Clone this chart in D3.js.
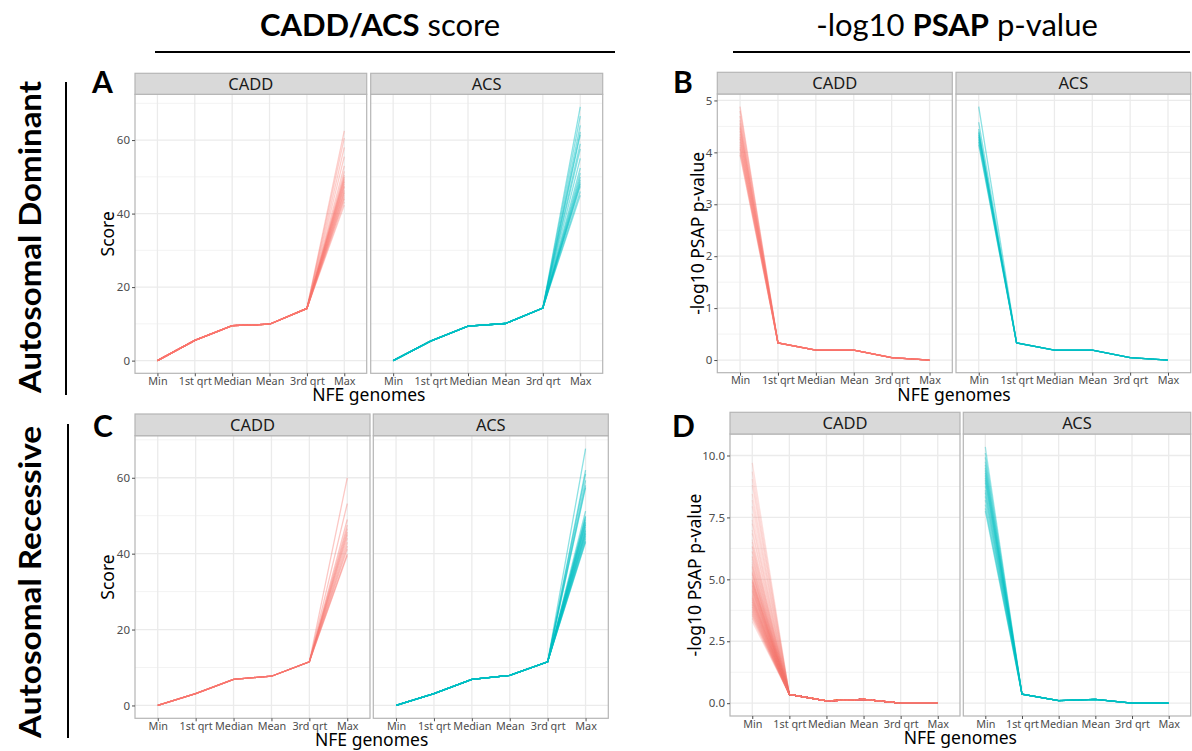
<html>
<head>
<script src="https://d3js.org/d3.v7.min.js"></script>
<style>
  body { margin: 0; background: #fff; }
  .tick text { font-family: "Noto Sans", sans-serif; }
</style>
</head>
<body>
<svg id="chart" width="1192" height="751"></svg>
<script>
  // categories on the x axis (same for every facet)
  var categories = ["Min", "1st qrt", "Median", "Mean", "3rd qrt", "Max"];

  // A: Autosomal Dominant, score. shared first five points, max differs by line
  var adCaddBase = [0, 5.5, 9.5, 9.9, 14.2];
  var adCaddMax = [62.5, 60.5, 58, 55.5, 53, 51.5, 50.5, 50, 49.5, 49, 48.6, 48, 47.5, 47.2, 46.5, 46, 45.6, 45, 44.4, 44, 43.2, 42.3];
  var adAcsBase = [0, 5.3, 9.4, 10.1, 14.3];
  var adAcsMax = [69, 66.5, 64, 62.2, 61.4, 59, 57.6, 55, 52.4, 51, 50, 49.2, 48.5, 48, 47.4, 46, 45];

  // B: Autosomal Dominant, -log10 PSAP p-value. min differs by line
  var adCaddPMin = [4.88, 4.8, 4.7, 4.62, 4.56, 4.5, 4.46, 4.41, 4.35, 4.3, 4.26, 4.2, 4.15, 4.1, 4.06, 4.0, 3.95];
  var adCaddPTail = [0.33, 0.19, 0.19, 0.045, 0];
  var adAcsPMin = [4.88, 4.58, 4.45, 4.4, 4.37, 4.33, 4.3, 4.25, 4.2, 4.15];
  var adAcsPTail = [0.33, 0.19, 0.19, 0.045, 0];

  // C: Autosomal Recessive, score
  var arCaddBase = [0, 3.1, 6.9, 7.7, 11.5];
  var arCaddMax = [60, 53.2, 49, 47.5, 46.6, 45.7, 45, 44.1, 43, 42, 41.2, 40, 39.5];
  var arAcsBase = [0, 3.1, 6.9, 7.9, 11.5];
  var arAcsMax = [67.7, 62, 61, 59.3, 58, 57.4, 51.2, 50, 49.6, 49, 48.4, 48, 47.6, 47, 46.4, 46, 45.5, 45.1, 44.6, 44, 43.4, 43];

  // D: Autosomal Recessive, -log10 PSAP p-value
  var arCaddPMin = [9.7, 9.35, 9.05, 8.8, 8.45, 8.2, 7.95, 7.65, 7.4, 7.25, 7.0, 6.85, 6.6, 6.5, 6.35, 6.3, 6.15, 6.1, 5.95, 5.9,
                    5.8, 5.7, 5.62, 5.5, 5.43, 5.3, 5.26, 5.18, 5.1, 5.04, 4.98, 4.93, 4.88, 4.84, 4.79, 4.73, 4.7, 4.64, 4.58, 4.55,
                    4.49, 4.44, 4.4, 4.33, 4.29, 4.24, 4.2, 4.14, 4.1, 4.06, 4.0, 3.96, 3.9, 3.86, 3.8, 3.74, 3.7, 3.6, 3.52, 3.41, 3.3,
                    5.55, 5.35, 5.22, 5.0, 4.9, 4.76, 4.62, 4.52, 4.36, 4.26, 4.17, 4.08, 3.98, 3.88, 3.78, 3.68, 3.62, 3.55, 3.45];
  var arCaddPTail = [0.35, 0.09, 0.15, 0, 0];
  var arAcsPMin = [10.35, 10.1, 9.92, 9.75, 9.62, 9.5, 9.4, 9.3, 9.2, 9.1, 9.0, 8.9, 8.76, 8.6, 8.5, 8.35, 8.2, 8.02, 7.86, 7.75];
  var arAcsPTail = [0.36, 0.1, 0.15, 0, 0];

  var red = "#F8766D", cyan = "#00BFC4";
  var font = "Noto Sans";

  var svg = d3.select("#chart");

  function scoreLines(base, maxes) { return maxes.map(function(m) { return base.concat([m]); }); }
  function pLines(mins, tail) { return mins.map(function(m) { return [m].concat(tail); }); }

  function drawRow(cfg) {
    var all = [];
    cfg.facets.forEach(function(f) { f.lines.forEach(function(l) { all = all.concat(l); }); });
    var ext = d3.extent(all), pad = (ext[1] - ext[0]) * 0.05;
    var plotTop = cfg.top + cfg.stripH;
    var y = d3.scaleLinear().domain([ext[0] - pad, ext[1] + pad]).range([cfg.bottom, plotTop]);

    cfg.facets.forEach(function(f, i) {
      var x = d3.scalePoint().domain(categories).range([f.left, f.right]).padding(0.6);
      var g = svg.append("g");

      // grid
      g.selectAll(".minor").data(cfg.minor.filter(function(v) { return y(v) > plotTop && y(v) < cfg.bottom; }))
        .enter().append("line")
        .attr("x1", f.left).attr("x2", f.right)
        .attr("y1", function(d) { return y(d); }).attr("y2", function(d) { return y(d); })
        .attr("stroke", "#f3f3f3").attr("stroke-width", 1);
      g.selectAll(".major").data(cfg.ticks)
        .enter().append("line")
        .attr("x1", f.left).attr("x2", f.right)
        .attr("y1", function(d) { return y(d); }).attr("y2", function(d) { return y(d); })
        .attr("stroke", "#ebebeb").attr("stroke-width", 1.3);
      g.selectAll(".vgrid").data(categories)
        .enter().append("line")
        .attr("x1", function(d) { return x(d); }).attr("x2", function(d) { return x(d); })
        .attr("y1", plotTop).attr("y2", cfg.bottom)
        .attr("stroke", "#ebebeb").attr("stroke-width", 1.3);

      // lines
      var line = d3.line()
        .x(function(d, j) { return x(categories[j]); })
        .y(function(d) { return y(d); });
      g.selectAll(".series").data(f.lines)
        .enter().append("path")
        .attr("d", line)
        .attr("fill", "none")
        .attr("stroke", f.color)
        .attr("stroke-width", 1.3)
        .attr("stroke-opacity", f.alpha);

      // panel border
      g.append("rect")
        .attr("x", f.left).attr("y", plotTop)
        .attr("width", f.right - f.left).attr("height", cfg.bottom - plotTop)
        .attr("fill", "none").attr("stroke", "#b5b5b5").attr("stroke-width", 1.2);

      // strip
      g.append("rect")
        .attr("x", f.left).attr("y", cfg.top)
        .attr("width", f.right - f.left).attr("height", cfg.stripH)
        .attr("fill", "#d9d9d9").attr("stroke", "#b5b5b5").attr("stroke-width", 1.2);
      g.append("text")
        .attr("x", (f.left + f.right) / 2).attr("y", cfg.top + cfg.stripH / 2 + 6)
        .attr("text-anchor", "middle")
        .style("font-family", font).style("font-size", "16.5px").style("fill", "#1a1a1a")
        .text(f.name);

      // x axis
      var xa = svg.append("g")
        .attr("transform", "translate(0," + cfg.bottom + ")")
        .call(d3.axisBottom(x).tickSize(3).tickPadding(1).tickSizeOuter(0));
      xa.select(".domain").remove();
      xa.selectAll("line").attr("stroke", "#4d4d4d");
      xa.selectAll("text").style("font-size", "10.8px").style("fill", "#4d4d4d");

      // y axis on first facet
      if (i == 0) {
        var ya = svg.append("g")
          .attr("transform", "translate(" + f.left + ",0)")
          .call(d3.axisLeft(y).tickValues(cfg.ticks).tickFormat(cfg.fmt).tickSize(3).tickPadding(2).tickSizeOuter(0));
        ya.select(".domain").remove();
        ya.selectAll("line").attr("stroke", "#4d4d4d");
        ya.selectAll("text").style("font-size", "11.5px").style("fill", "#4d4d4d");

        svg.append("text")
          .attr("transform", "translate(" + cfg.yTitleX + "," + ((plotTop + cfg.bottom) / 2) + ") rotate(-90)")
          .attr("text-anchor", "middle")
          .style("font-family", font).style("font-size", "17.5px").style("fill", "#000")
          .text(cfg.yTitle);
      }
    });

    var left = cfg.facets[0].left, right = cfg.facets[1].right;
    svg.append("text")
      .attr("x", (left + right) / 2).attr("y", cfg.bottom + 28)
      .attr("text-anchor", "middle")
      .style("font-family", font).style("font-size", "17.5px").style("fill", "#000")
      .text("NFE genomes");

    svg.append("text")
      .attr("x", cfg.letterX).attr("y", cfg.letterY)
      .style("font-family", "Lato").style("font-weight", "bold").style("font-size", "30px")
      .text(cfg.letter);
  }

  var scoreTicks = [0, 20, 40, 60], scoreMinor = [10, 30, 50, 70];

  drawRow({
    letter: "A", letterX: 92, letterY: 93,
    top: 73.3, stripH: 21, bottom: 373.3,
    ticks: scoreTicks, minor: scoreMinor, fmt: d3.format("d"),
    yTitle: "Score", yTitleX: 114,
    facets: [
      {name: "CADD", left: 135, right: 366.7, color: red, alpha: 0.35, lines: scoreLines(adCaddBase, adCaddMax)},
      {name: "ACS", left: 370.7, right: 602.7, color: cyan, alpha: 0.45, lines: scoreLines(adAcsBase, adAcsMax)}
    ]
  });

  drawRow({
    letter: "B", letterX: 673, letterY: 93,
    top: 72.3, stripH: 21.7, bottom: 372.7,
    ticks: [0, 1, 2, 3, 4, 5], minor: [0.5, 1.5, 2.5, 3.5, 4.5], fmt: d3.format("d"),
    yTitle: "-log10 PSAP p-value", yTitleX: 704,
    facets: [
      {name: "CADD", left: 717.3, right: 952.3, color: red, alpha: 0.35, lines: pLines(adCaddPMin, adCaddPTail)},
      {name: "ACS", left: 956, right: 1190.7, color: cyan, alpha: 0.45, lines: pLines(adAcsPMin, adAcsPTail)}
    ]
  });

  drawRow({
    letter: "C", letterX: 93, letterY: 437,
    top: 414, stripH: 21.7, bottom: 718.3,
    ticks: scoreTicks, minor: scoreMinor, fmt: d3.format("d"),
    yTitle: "Score", yTitleX: 114,
    facets: [
      {name: "CADD", left: 135, right: 370, color: red, alpha: 0.4, lines: scoreLines(arCaddBase, arCaddMax)},
      {name: "ACS", left: 373.3, right: 608.3, color: cyan, alpha: 0.45, lines: scoreLines(arAcsBase, arAcsMax)}
    ]
  });

  drawRow({
    letter: "D", letterX: 672, letterY: 437,
    top: 412.3, stripH: 21.7, bottom: 716,
    ticks: [0, 2.5, 5, 7.5, 10], minor: [1.25, 3.75, 6.25, 8.75], fmt: d3.format(".1f"),
    yTitle: "-log10 PSAP p-value", yTitleX: 701,
    facets: [
      {name: "CADD", left: 730, right: 960, color: red, alpha: 0.22, lines: pLines(arCaddPMin, arCaddPTail)},
      {name: "ACS", left: 963.3, right: 1190.7, color: cyan, alpha: 0.35, lines: pLines(arAcsPMin, arAcsPTail)}
    ]
  });

  // column headers
  var h1 = svg.append("text").attr("x", 380).attr("y", 36).attr("text-anchor", "middle")
    .style("font-family", "Lato").style("font-size", "31px");
  h1.append("tspan").style("font-weight", "bold").text("CADD/ACS");
  h1.append("tspan").text(" score");

  var h2 = svg.append("text").attr("x", 957).attr("y", 36).attr("text-anchor", "middle")
    .style("font-family", "Lato").style("font-size", "31px");
  h2.append("tspan").text("-log10 ");
  h2.append("tspan").style("font-weight", "bold").text("PSAP");
  h2.append("tspan").text(" p-value");

  svg.append("line").attr("x1", 155).attr("x2", 615).attr("y1", 52).attr("y2", 52)
    .attr("stroke", "#000").attr("stroke-width", 2);
  svg.append("line").attr("x1", 733).attr("x2", 1190).attr("y1", 52).attr("y2", 52)
    .attr("stroke", "#000").attr("stroke-width", 2);

  // row labels
  svg.append("text")
    .attr("transform", "translate(41,237) rotate(-90)")
    .attr("text-anchor", "middle")
    .attr("textLength", 312).attr("lengthAdjust", "spacingAndGlyphs")
    .style("font-family", "Lato").style("font-weight", "bold").style("font-size", "30px")
    .text("Autosomal Dominant");
  svg.append("text")
    .attr("transform", "translate(41,582) rotate(-90)")
    .attr("text-anchor", "middle")
    .attr("textLength", 312).attr("lengthAdjust", "spacingAndGlyphs")
    .style("font-family", "Lato").style("font-weight", "bold").style("font-size", "30px")
    .text("Autosomal Recessive");

  svg.append("line").attr("x1", 66).attr("x2", 66).attr("y1", 82).attr("y2", 395)
    .attr("stroke", "#000").attr("stroke-width", 2);
  svg.append("line").attr("x1", 68).attr("x2", 68).attr("y1", 424).attr("y2", 738)
    .attr("stroke", "#000").attr("stroke-width", 2);
</script>
</body>
</html>
